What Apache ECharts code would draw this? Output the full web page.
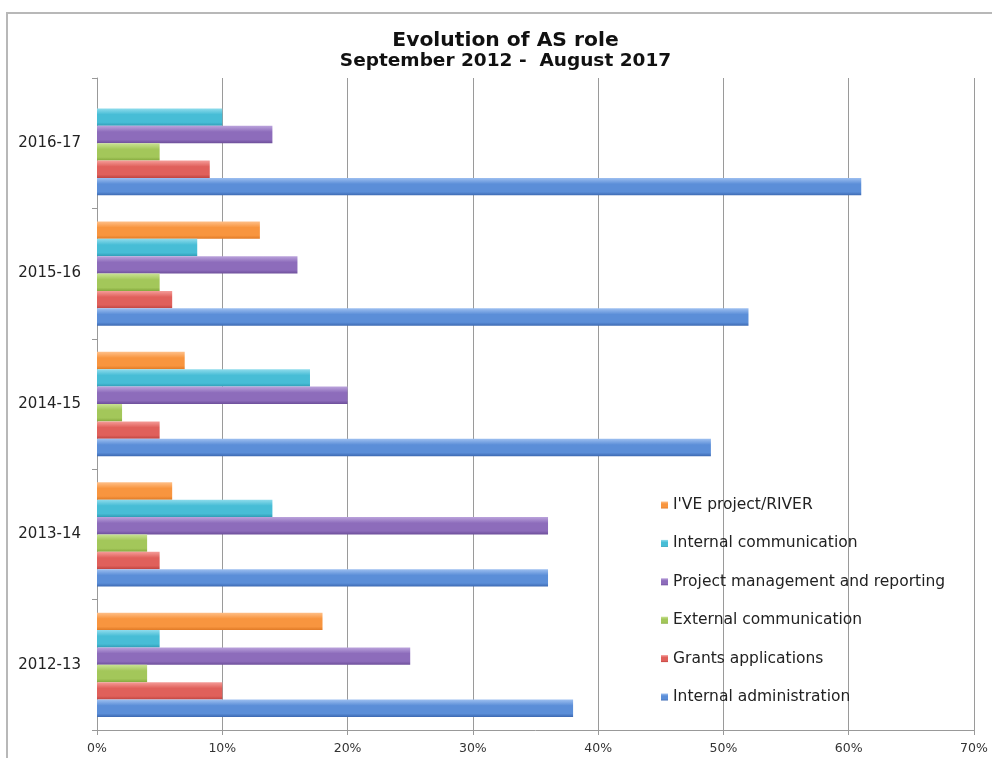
<!DOCTYPE html>
<html>
<head>
<meta charset="utf-8">
<style>
  html, body { margin: 0; padding: 0; background: #ffffff; }
  #chart { width: 992px; height: 758px; }
</style>
<script src="https://cdn.jsdelivr.net/npm/echarts@6/dist/echarts.min.js"></script>
</head>
<body>
<div id="chart"></div>
<script>
// School years, bottom to top on the category axis
const years = ['2012-13', '2013-14', '2014-15', '2015-16', '2016-17'];

// Share of time per activity (%), one value per school year
const iveRiver        = [18, 6, 7, 13, null];
const internalComm    = [5, 14, 17, 8, 10];
const projectMgmt     = [25, 36, 20, 16, 14];
const externalComm    = [4, 4, 2, 5, 5];
const grants          = [10, 5, 5, 6, 9];
const internalAdmin   = [38, 36, 49, 52, 61];

const seriesNames = [
  "I'VE project/RIVER",
  'Internal communication',
  'Project management and reporting',
  'External communication',
  'Grants applications',
  'Internal administration'
];
const seriesData = [iveRiver, internalComm, projectMgmt, externalComm, grants, internalAdmin];

// [light top, base, dark bottom] for the glossy bar look
const palette = [
  ['#ffc089', '#f8953f', '#e07a26'],
  ['#8fdcec', '#47bdd6', '#2f9db6'],
  ['#bba3dc', '#8d6cbb', '#6d4f9a'],
  ['#c9e293', '#a3c75a', '#84a83d'],
  ['#f59c98', '#e0605b', '#bf4440'],
  ['#9dbff0', '#5b8ed8', '#3c69b2']
];
const flatColors = ['#f79646', '#4bacc6', '#8064a2', '#9bbb59', '#c0504d', '#4f81bd'];

function gloss(c) {
  return new echarts.graphic.LinearGradient(0, 0, 0, 1, [
    { offset: 0, color: c[0] },
    { offset: 0.35, color: c[1] },
    { offset: 0.8, color: c[1] },
    { offset: 1, color: c[2] }
  ]);
}

const chart = echarts.init(document.getElementById('chart'));

chart.setOption({
  animation: false,
  backgroundColor: '#ffffff',
  title: [
    {
      text: 'Evolution of AS role',
      left: 505.5, top: 30.5, textAlign: 'center', padding: 0,
      textStyle: { fontFamily: 'DejaVu Sans', fontWeight: 'bold', fontSize: 20.3, color: '#111' }
    },
    {
      text: 'September 2012 -  August 2017',
      left: 505.5, top: 51.5, textAlign: 'center', padding: 0,
      textStyle: { fontFamily: 'DejaVu Sans', fontWeight: 'bold', fontSize: 18.5, color: '#111' }
    }
  ],
  graphic: [
    {
      type: 'rect', silent: true, z: -1,
      shape: { x: 7, y: 13, width: 1100, height: 900 },
      style: { fill: 'none', stroke: '#b8b8b8', lineWidth: 2 }
    }
  ],
  legend: {
    orient: 'vertical',
    left: 661, top: 496, padding: 0,
    itemWidth: 7, itemHeight: 7, itemGap: 20.4,
    icon: 'rect',
    data: seriesNames,
    textStyle: { fontFamily: 'DejaVu Sans', fontSize: 15.5, color: '#222', lineHeight: 18 }
  },
  grid: { left: 97, right: 18, top: 78, bottom: 28, containLabel: false },
  xAxis: {
    type: 'value', min: 0, max: 70, interval: 10,
    axisLine: { show: true, lineStyle: { color: '#999', width: 1 } },
    axisTick: { show: true, length: 5, lineStyle: { color: '#999' } },
    splitLine: { show: true, lineStyle: { color: '#9a9a9a', width: 1 } },
    axisLabel: {
      formatter: '{value}%', margin: 12,
      fontFamily: 'DejaVu Sans', fontSize: 12.5, color: '#333'
    }
  },
  yAxis: {
    type: 'category', data: years,
    axisLine: { show: true, lineStyle: { color: '#999', width: 1 } },
    axisTick: { show: true, length: 5, lineStyle: { color: '#999' } },
    axisLabel: { margin: 16, fontFamily: 'DejaVu Sans', fontSize: 15, color: '#222' }
  },
  series: seriesNames.map((name, i) => ({
    name: name,
    type: 'bar',
    data: seriesData[i],
    barGap: '0%',
    barCategoryGap: '20%',
    color: flatColors[i],
    itemStyle: { color: gloss(palette[i]) }
  }))
});
</script>
</body>
</html>
